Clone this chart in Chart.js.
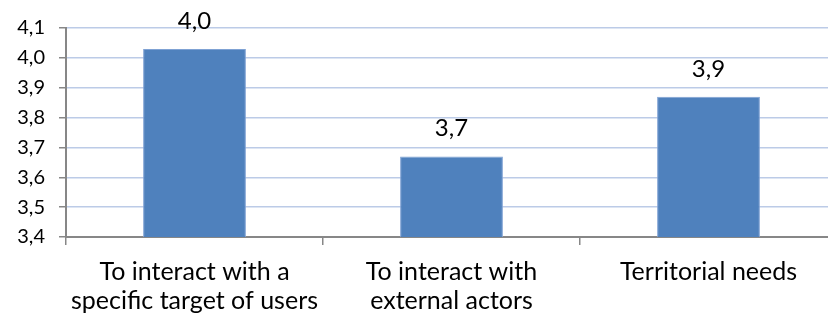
<!DOCTYPE html>
<html>
<head>
<meta charset="utf-8">
<script src="https://cdn.jsdelivr.net/npm/chart.js@4/dist/chart.umd.min.js"></script>
<style>
  html, body { margin: 0; padding: 0; background: #fff; overflow: hidden; }
  #wrap { position: relative; width: 838px; height: 320px; }
</style>
</head>
<body>
<div id="wrap"><canvas id="chart"></canvas></div>
<script>
const categories = [
  ["To interact with a", "specific target of users"],
  ["To interact with", "external actors"],
  "Territorial needs"
];
const scores = [4.03, 3.67, 3.87];
const yMin = 3.4;
const yMax = 4.1;
const yStep = 0.1;

const FONT = "Lato, 'Open Sans', sans-serif";
const AXIS_GRAY = "#878787";

function fmt(v) {
  return Number(v).toFixed(1).replace(".", ",");
}

// values above each bar, placed from the bar element itself
const valueLabels = {
  id: "valueLabels",
  afterDatasetsDraw(chart) {
    const ctx = chart.ctx;
    const meta = chart.getDatasetMeta(0);
    ctx.save();
    ctx.font = "24px " + FONT;
    ctx.fillStyle = "#000";
    ctx.textAlign = "center";
    ctx.textBaseline = "alphabetic";
    meta.data.forEach((bar, i) => {
      ctx.fillText(fmt(chart.data.datasets[0].data[i]), bar.x, bar.y - 20);
    });
    ctx.restore();
  }
};

new Chart(document.getElementById("chart"), {
  type: "bar",
  data: {
    labels: categories,
    datasets: [
      {
        data: scores,
        backgroundColor: "#4f81bd",
        borderColor: "#7fa2d4",
        borderWidth: 1,
        barPercentage: 0.4,
        categoryPercentage: 1
      }
    ]
  },
  options: {
    responsive: true,
    maintainAspectRatio: false,
    animation: false,
    layout: { padding: { top: 28, right: 1, left: 0, bottom: 0 } },
    plugins: {
      legend: { display: false },
      tooltip: { enabled: false }
    },
    scales: {
      y: {
        min: yMin,
        max: yMax,
        ticks: {
          stepSize: yStep,
          color: "#000",
          padding: 14,
          font: { family: FONT, size: 20 },
          callback: (v) => fmt(v)
        },
        grid: {
          color: "#bccbe7",
          lineWidth: 1.5,
          tickColor: AXIS_GRAY,
          tickLength: 7
        },
        border: { color: AXIS_GRAY, width: 2 },
        afterFit(scale) {
          scale.width = 66;
        }
      },
      x: {
        ticks: {
          color: "#000",
          padding: 12,
          maxRotation: 0,
          font: { family: FONT, size: 25, lineHeight: 1.16 }
        },
        grid: {
          drawOnChartArea: false,
          tickColor: AXIS_GRAY,
          tickLength: 8,
          lineWidth: 1.5
        },
        border: { color: AXIS_GRAY, width: 2 },
        afterFit(scale) {
          scale.height = 83;
        }
      }
    }
  },
  plugins: [valueLabels]
});
</script>
</body>
</html>
